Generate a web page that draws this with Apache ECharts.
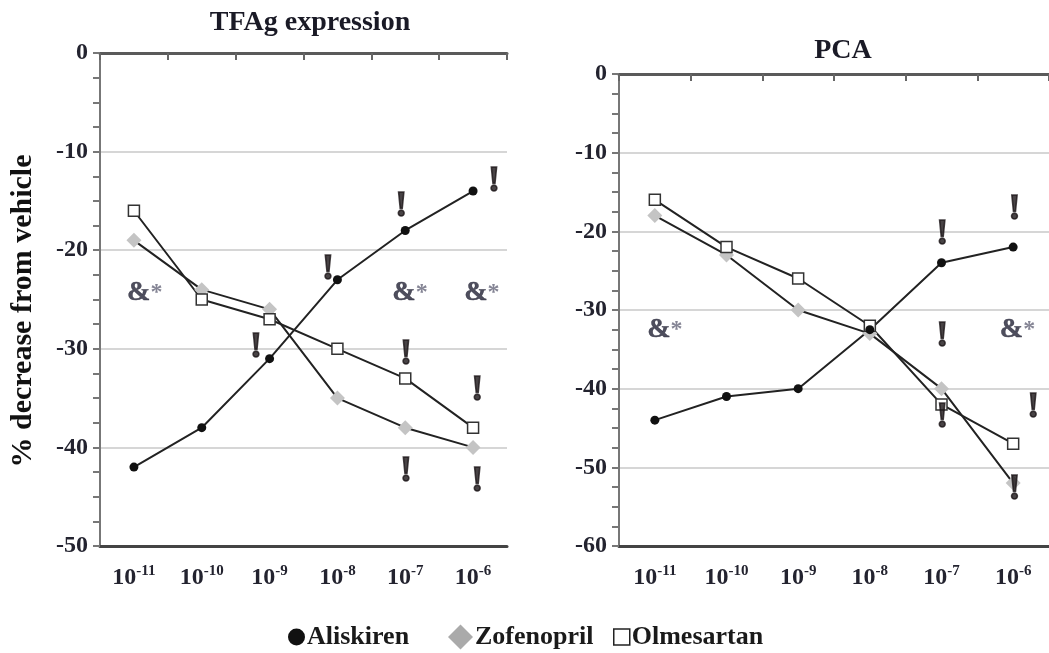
<!DOCTYPE html>
<html><head><meta charset="utf-8">
<script src="https://cdn.jsdelivr.net/npm/echarts@6/dist/echarts.min.js"></script>
<style>html,body{margin:0;padding:0;background:#fff}#c{width:1049px;height:653px}</style>
</head><body><div id="c"></div>
<script>
const categories = ['-11','-10','-9','-8','-7','-6'];
const seriesNames = ['Aliskiren','Zofenopril','Olmesartan'];
const yTitle = '% decrease from vehicle';
// TFAg expression (left panel)
const tfagAliskiren  = [-42, -38, -31, -23, -18, -14];
const tfagZofenopril = [-19, -24, -26, -35, -38, -40];
const tfagOlmesartan = [-16, -25, -27, -30, -33, -38];
// PCA (right panel)
const pcaAliskiren  = [-44, -41, -40, -32.5, -24, -22];
const pcaZofenopril = [-18, -23, -30, -33, -40, -52];
const pcaOlmesartan = [-16, -22, -26, -32, -42, -47];
// annotations: [category position, value, text]
const tfagNotes = [
  [0.16, -24.3, '&*'], [4.07, -24.3, '&*'], [5.13, -24.3, '&*'],
  [1.80, -29.9, '!'], [2.86, -22.0, '!'], [3.94, -15.6, '!'], [5.31, -13.1, '!'],
  [4.01, -30.6, '!'], [5.06, -34.2, '!'], [4.01, -42.5, '!'], [5.06, -43.5, '!']
];
const pcaNotes = [
  [0.14, -32.5, '&*'], [5.06, -32.5, '&*'],
  [4.01, -20.4, '!'], [5.02, -17.2, '!'], [4.01, -33.4, '!'],
  [5.28, -42.4, '!'], [4.01, -43.7, '!'], [5.02, -52.8, '!']
];

const FONT = '"Liberation Serif","Times New Roman",serif';
const TXT = '#23232f';
const chart = echarts.init(document.getElementById('c'));

const grids = [
  {left: 100, top: 53, width: 407, height: 493},
  {left: 619, top: 74, right: 0, height: 472}
];

function xAxesFor(g) {
  return [
    { // top axis with ticks at category boundaries
      type: 'category', gridIndex: g, data: categories, position: 'top',
      axisLine: {onZero: false, lineStyle: {color: '#5a5a5a', width: 3}},
      axisTick: {show: true, inside: true, length: 7, interval: 0, lineStyle: {color: '#666', width: 2}},
      axisLabel: {show: false}, splitLine: {show: false}
    },
    { // bottom axis with labels
      type: 'category', gridIndex: g, data: categories, position: 'bottom',
      axisLine: {onZero: false, lineStyle: {color: '#444', width: 3}},
      axisTick: {show: false},
      axisLabel: {
        margin: 18, interval: 0,
        formatter: v => '{b|10}{s|' + v + '}',
        rich: {
          b: {fontFamily: FONT, fontWeight: 'bold', fontSize: 24, color: TXT},
          s: {fontFamily: FONT, fontWeight: 'bold', fontSize: 15, color: TXT, verticalAlign: 'top', padding: [0,0,12,0]}
        }
      }
    },
    { // hidden value axis for annotations
      type: 'value', gridIndex: g, min: -0.5, max: 5.5, show: false
    }
  ];
}

function yAxisFor(g, min) {
  return {
    type: 'value', gridIndex: g, min: min, max: 0, interval: 10,
    axisLine: {show: true, onZero: false, lineStyle: {color: '#777', width: 2}},
    axisTick: {show: true, inside: false, length: 7, lineStyle: {color: '#777', width: 2}},
    minorTick: {show: true, splitNumber: 4, length: 7, lineStyle: {color: '#777', width: 2}},
    axisLabel: {fontFamily: FONT, fontWeight: 'bold', fontSize: 24, color: TXT, margin: 12},
    splitLine: {show: true, lineStyle: {color: '#d6d6d6', width: 2}}
  };
}

function lineSeries(g, a, z, o) {
  const base = {type: 'line', xAxisIndex: g * 3 + 1, yAxisIndex: g, z: 3,
                lineStyle: {color: '#222', width: 2}};
  return [
    Object.assign({}, base, {name: seriesNames[1], data: z, symbol: 'diamond', symbolSize: 15,
      itemStyle: {color: '#c4c4c4', borderWidth: 0}}),
    Object.assign({}, base, {name: seriesNames[2], data: o, symbol: 'rect', symbolSize: 11,
      itemStyle: {color: '#fff', borderColor: '#333', borderWidth: 1.5}}),
    Object.assign({}, base, {name: seriesNames[0], data: a, symbol: 'circle', symbolSize: 9,
      itemStyle: {color: '#111', borderWidth: 0}})
  ];
}

function noteSeries(g, notes) {
  return {
    type: 'scatter', xAxisIndex: g * 3 + 2, yAxisIndex: g, z: 5, symbolSize: 1,
    itemStyle: {color: 'rgba(0,0,0,0)'}, silent: true,
    data: notes.map(n => ({value: [n[0], n[1]], note: n[2]})),
    label: {
      show: true, position: 'inside',
      formatter: p => p.data.note === '!' ? '{e|!}' : '{a|&}{s|*}',
      rich: {
        e: {fontFamily: FONT, fontWeight: 'bold', fontSize: 36, color: '#1a1416',
            textBorderColor: '#1a1416', textBorderWidth: 1.6},
        a: {fontFamily: FONT, fontWeight: 'bold', fontSize: 28, color: '#222234',
            textBorderColor: '#222234', textBorderWidth: 0.4},
        s: {fontFamily: FONT, fontWeight: 'bold', fontSize: 24, color: '#66667a'}
      }
    }
  };
}

const legendText = {fontFamily: FONT, fontWeight: 'bold', fontSize: 26, color: '#1a1a1a'};
function legendAt(left, name, icon, w, h, style) {
  return {top: 619, left: left, itemWidth: w, itemHeight: h, itemGap: 0,
    data: [{name: name, icon: icon, itemStyle: style}],
    textStyle: Object.assign({padding: [0, 0, 0, -3]}, legendText)};
}

chart.setOption({
  animation: false,
  title: [
    {text: 'TFAg expression', left: 305, top: 4, textAlign: 'center',
     textStyle: {fontFamily: FONT, fontWeight: 'bold', fontSize: 28, color: '#1a1a26'}},
    {text: 'PCA', left: 838, top: 32, textAlign: 'center',
     textStyle: {fontFamily: FONT, fontWeight: 'bold', fontSize: 28, color: '#1a1a26'}}
  ],
  legend: [
    legendAt(283, seriesNames[0], 'circle', 17, 17, {color: '#111'}),
    legendAt(443, seriesNames[1], 'diamond', 25, 25, {color: '#aaa'}),
    legendAt(608, seriesNames[2], 'rect', 16, 16, {color: '#fff', borderColor: '#222', borderWidth: 1.5})
  ],
  graphic: [{
    type: 'text', x: 23, y: 311, rotation: Math.PI / 2,
    style: {text: yTitle, fontFamily: FONT, fontWeight: 'bold', fontSize: 30, fill: '#111',
            align: 'center', verticalAlign: 'middle'}
  }],
  grid: grids,
  xAxis: xAxesFor(0).concat(xAxesFor(1)),
  yAxis: [yAxisFor(0, -50), yAxisFor(1, -60)],
  series: lineSeries(0, tfagAliskiren, tfagZofenopril, tfagOlmesartan)
    .concat(lineSeries(1, pcaAliskiren, pcaZofenopril, pcaOlmesartan))
    .concat([noteSeries(0, tfagNotes), noteSeries(1, pcaNotes)])
});
</script>
</body></html>
